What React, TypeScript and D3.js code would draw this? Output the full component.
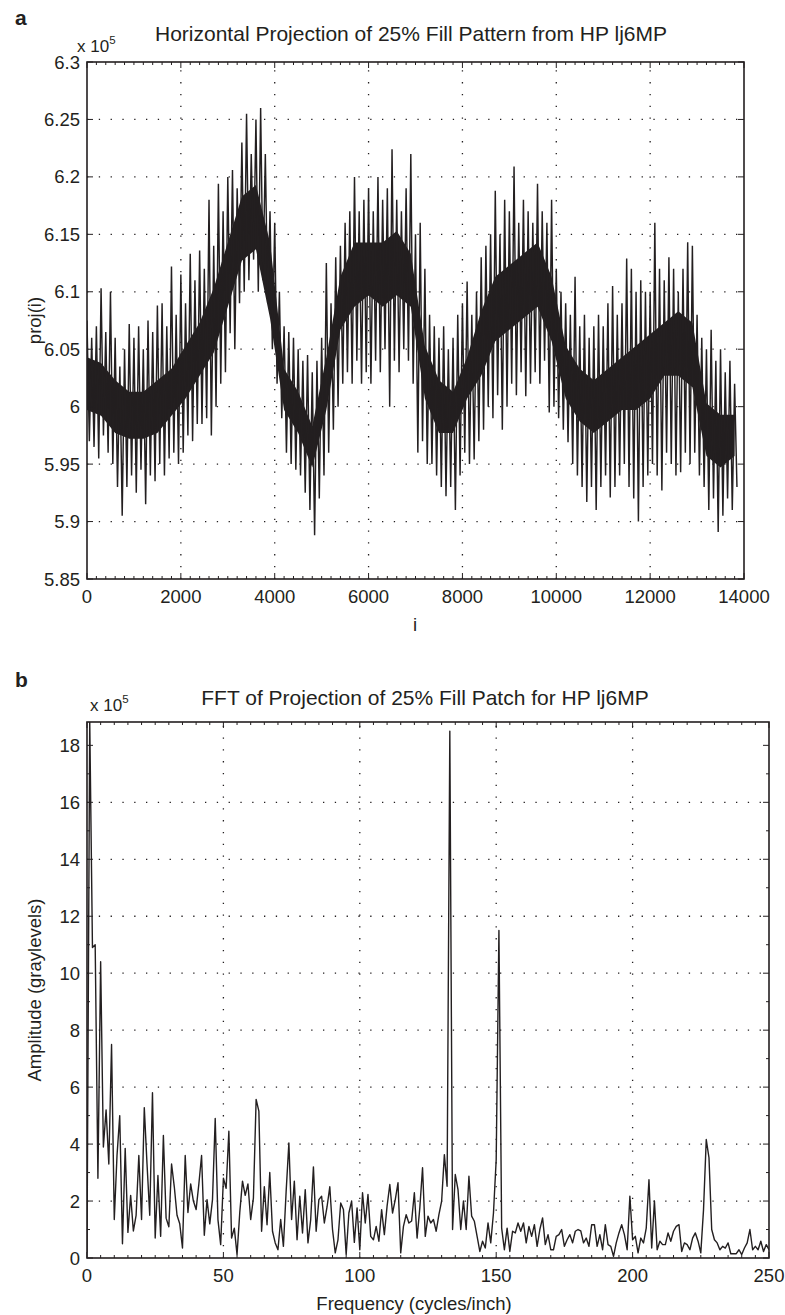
import React from 'react';
import * as d3 from 'd3';

const W = 785;
const H = 1315;
const INK = '#231f20';
const FONT = '"Liberation Sans", Arial, Helvetica, sans-serif';

// ---- panel a: horizontal projection (values x 1e5) ----
// spike tops / bottoms, one pair every 100 samples
const projStep = 100;
const projHi = [
  6.075, 6.06, 6.07, 6.103, 6.065, 6.10, 6.06, 6.035, 6.05, 6.072,
  6.06, 6.07, 6.05, 6.075, 6.065, 6.088, 6.09, 6.07, 6.122, 6.08,
  6.115, 6.09, 6.133, 6.11, 6.136, 6.12, 6.18, 6.14, 6.194, 6.17,
  6.2, 6.206, 6.19, 6.23, 6.255, 6.22, 6.25, 6.26, 6.22, 6.17,
  6.16, 6.10, 6.07, 6.065, 6.06, 6.05, 6.04, 6.045, 6.03, 6.04,
  6.06, 6.125, 6.09, 6.13, 6.14, 6.16, 6.17, 6.2, 6.17, 6.18,
  6.19, 6.17, 6.2, 6.18, 6.19, 6.224, 6.18, 6.17, 6.19, 6.22,
  6.15, 6.16, 6.12, 6.08, 6.07, 6.06, 6.07, 6.05, 6.06, 6.08,
  6.09, 6.109, 6.08, 6.1, 6.13, 6.14, 6.15, 6.188, 6.15, 6.18,
  6.17, 6.209, 6.16, 6.18, 6.17, 6.16, 6.194, 6.17, 6.16, 6.18,
  6.12, 6.1, 6.09, 6.08, 6.113, 6.07, 6.08, 6.06, 6.07, 6.08,
  6.07, 6.09, 6.105, 6.08, 6.09, 6.129, 6.12, 6.1, 6.11, 6.1,
  6.1, 6.16, 6.12, 6.11, 6.13, 6.12, 6.1, 6.12, 6.143, 6.14,
  6.08, 6.06, 6.05, 6.067, 6.04, 6.05, 6.03, 6.04, 6.02,
];
const projLo = [
  5.97, 5.965, 5.955, 5.975, 5.96, 5.95, 5.93, 5.905, 5.93, 5.94,
  5.925, 5.945, 5.915, 5.94, 5.935, 5.95, 5.94, 5.955, 5.96, 5.95,
  5.96, 5.975, 5.97, 5.985, 5.985, 5.99, 5.975, 6.0, 6.02, 6.03,
  6.064, 6.05, 6.09, 6.1, 6.11, 6.128, 6.1, 6.11, 6.09, 6.05,
  6.02, 5.99, 5.96, 5.95, 5.945, 5.94, 5.925, 5.91, 5.888, 5.92,
  5.94, 5.96, 5.98, 6.0, 6.02, 6.03, 6.02, 6.04, 6.02, 6.03,
  6.02, 6.04, 6.03, 6.05, 6.0, 6.04, 6.03, 6.05, 6.04, 6.02,
  5.96, 5.97, 5.95, 5.95, 5.94, 5.93, 5.922, 5.93, 5.91, 5.94,
  5.96, 5.95, 5.954, 5.97, 5.98, 6.0, 5.99, 6.01, 5.98, 6.0,
  6.02, 6.01, 6.03, 6.009, 6.02, 6.03, 6.02, 6.04, 5.995, 6.0,
  5.99, 5.98, 5.969, 5.95, 5.94, 5.93, 5.917, 5.93, 5.91, 5.93,
  5.94, 5.921, 5.93, 5.94, 5.95, 5.93, 5.92, 5.9, 5.93, 5.94,
  5.95, 5.94, 5.927, 5.96, 5.95, 5.94, 5.943, 5.96, 5.95, 5.96,
  5.94, 5.93, 5.91, 5.92, 5.891, 5.905, 5.92, 5.91, 5.93,
];
// dense black core of the trace, every 300 samples
const coreStep = 300;
const coreHi = [
  6.043, 6.038, 6.023, 6.013, 6.013, 6.023, 6.033, 6.053, 6.073, 6.103,
  6.143, 6.183, 6.193, 6.143, 6.033, 6.013, 5.983, 6.043, 6.113, 6.143,
  6.143, 6.143, 6.153, 6.133, 6.053, 6.023, 6.013, 6.043, 6.083, 6.113,
  6.123, 6.133, 6.143, 6.113, 6.053, 6.033, 6.023, 6.033, 6.043, 6.053,
  6.063, 6.073, 6.083, 6.073, 6.003, 5.993, 5.993,
];
const coreLo = [
  5.997, 5.992, 5.977, 5.972, 5.972, 5.977, 5.992, 6.007, 6.027, 6.047,
  6.087, 6.127, 6.137, 6.077, 5.997, 5.977, 5.947, 5.997, 6.067, 6.087,
  6.097, 6.087, 6.097, 6.087, 6.007, 5.977, 5.977, 6.007, 6.027, 6.057,
  6.067, 6.077, 6.087, 6.057, 6.007, 5.987, 5.977, 5.987, 5.997, 5.997,
  6.007, 6.027, 6.027, 6.017, 5.957, 5.947, 5.957,
];
const projXTicks = [0, 2000, 4000, 6000, 8000, 10000, 12000, 14000];
const projYTicks = [5.85, 5.9, 5.95, 6, 6.05, 6.1, 6.15, 6.2, 6.25, 6.3];
const projYLabels = ['5.85', '5.9', '5.95', '6', '6.05', '6.1', '6.15', '6.2', '6.25', '6.3'];

// ---- panel b: FFT amplitude (x 1e5), one value per cycle/inch ----
const fftStep = 1;
const fftAmp = [
  0.2, 18.9, 10.9, 11.0, 2.8, 10.4, 3.9, 5.2, 3.3, 7.5,
  1.35, 3.6, 5.0, 0.5, 3.85, 0.9, 2.2, 0.95, 1.5, 3.6,
  1.35, 5.28, 3.3, 1.5, 5.8, 0.7, 2.9, 0.76, 4.3, 1.4,
  1.1, 3.3, 2.5, 1.5, 1.2, 0.35, 3.6, 1.6, 2.6, 2.0,
  1.7, 2.6, 3.6, 0.8, 2.05, 1.2, 2.05, 4.9, 1.35, 0.47,
  2.8, 2.45, 4.45, 0.7, 1.05, 0.12, 1.6, 2.7, 2.2, 2.6,
  1.35, 2.1, 5.57, 5.16, 0.94, 2.5, 1.17, 3.0, 0.94, 0.53,
  0.29, 1.35, 0.41, 2.34, 4.04, 1.35, 2.7, 0.64, 2.17, 0.88,
  2.4, 0.53, 1.35, 3.2, 0.94, 2.05, 2.17, 1.23, 1.8, 2.5,
  1.0, 0.18, 0.64, 1.93, 1.7, 0.12, 1.58, 2.0, 0.55, 1.76,
  0.29, 2.29, 1.23, 2.23, 0.76, 0.64, 1.11, 0.59, 1.7, 0.82,
  1.82, 2.58, 1.58, 2.05, 2.64, 0.18, 1.11, 1.52, 1.23, 1.3,
  2.29, 0.7, 1.76, 3.17, 0.76, 1.47, 1.23, 1.35, 0.94, 1.52,
  2.0, 3.63, 2.52, 18.5, 1.0, 2.93, 2.4, 1.0, 2.0, 1.0,
  2.87, 1.47, 1.29, 0.76, 0.23, 0.59, 0.35, 1.23, 0.53, 1.58,
  3.46, 11.5, 1.05, 0.29, 1.05, 0.23, 0.94, 0.88, 1.23, 0.94,
  1.23, 0.53, 1.11, 0.76, 1.17, 0.41, 1.0, 1.41, 0.47, 0.82,
  0.29, 0.29, 0.76, 0.82, 1.0, 0.41, 0.64, 0.82, 0.53, 0.94,
  1.0, 0.95, 0.53, 0.7, 0.41, 1.17, 1.17, 0.41, 0.82, 0.29,
  1.17, 0.47, 0.41, 0.06, 0.53, 0.88, 1.17, 0.82, 0.29, 2.17,
  0.64, 0.76, 0.18, 0.7, 0.53, 1.05, 2.75, 0.35, 2.0, 0.29,
  0.59, 0.47, 0.47, 0.88, 0.59, 0.94, 1.11, 1.17, 0.23, 0.53,
  0.47, 0.29, 0.7, 0.88, 0.59, 0.18, 1.7, 4.16, 3.52, 1.0,
  0.64, 0.53, 0.29, 0.41, 0.35, 0.53, 0.15, 0.15, 0.15, 0.29,
  0.12, 0.35, 0.53, 1.0, 0.29, 0.41, 0.29, 0.59, 0.23, 0.47,
  0.29,
];
const fftXTicks = [0, 50, 100, 150, 200, 250];
const fftYTicks = [0, 2, 4, 6, 8, 10, 12, 14, 16, 18];

type Lin = d3.ScaleLinear<number, number>;

function Frame({ id, x, y, xTicks, yTicks, xLabels, yLabels, xMinor, yMinor, children }: {
  id: string; x: Lin; y: Lin; xTicks: number[]; yTicks: number[];
  xLabels: string[]; yLabels: string[]; xMinor: number[]; yMinor: number[];
  children?: React.ReactNode;
}) {
  const [l, r] = x.range();
  const [b, t] = y.range();
  const major = 6;
  const minor = 3;
  return (
    <g>
      <defs>
        <clipPath id={id}>
          <rect x={l} y={t} width={r - l} height={b - t} />
        </clipPath>
      </defs>
      {/* dotted grid */}
      <g stroke={INK} strokeWidth={1.3} strokeDasharray="1.3 10.5">
        {xTicks.slice(1, -1).map(v => (
          <line key={'gx' + v} x1={x(v)} x2={x(v)} y1={b} y2={t} />
        ))}
        {yTicks.slice(1, -1).map(v => (
          <line key={'gy' + v} x1={l} x2={r} y1={y(v)} y2={y(v)} />
        ))}
      </g>
      <g clipPath={`url(#${id})`}>{children}</g>
      {/* ticks */}
      <g stroke={INK} strokeWidth={1}>
        {xMinor.map(v => (
          <g key={'mx' + v}>
            <line x1={x(v)} x2={x(v)} y1={b} y2={b - minor} />
            <line x1={x(v)} x2={x(v)} y1={t} y2={t + minor} />
          </g>
        ))}
        {yMinor.map(v => (
          <g key={'my' + v}>
            <line x1={l} x2={l + minor} y1={y(v)} y2={y(v)} />
            <line x1={r} x2={r - minor} y1={y(v)} y2={y(v)} />
          </g>
        ))}
        {xTicks.map(v => (
          <g key={'tx' + v}>
            <line x1={x(v)} x2={x(v)} y1={b} y2={b - major} />
            <line x1={x(v)} x2={x(v)} y1={t} y2={t + major} />
          </g>
        ))}
        {yTicks.map(v => (
          <g key={'ty' + v}>
            <line x1={l} x2={l + major} y1={y(v)} y2={y(v)} />
            <line x1={r} x2={r - major} y1={y(v)} y2={y(v)} />
          </g>
        ))}
      </g>
      <rect x={l} y={t} width={r - l} height={b - t} fill="none" stroke={INK} strokeWidth={1.6} />
      <g fill={INK} fontSize={18.5} fontFamily={FONT}>
        {xTicks.map((v, i) => (
          <text key={'lx' + v} x={x(v)} y={b + 24} textAnchor="middle">{xLabels[i]}</text>
        ))}
        {yTicks.map((v, i) => (
          <text key={'ly' + v} x={l - 7} y={y(v) + 6.5} textAnchor="end">{yLabels[i]}</text>
        ))}
      </g>
    </g>
  );
}

function Exponent({ x, y }: { x: number; y: number }) {
  return (
    <text x={x} y={y} fill={INK} fontFamily={FONT} fontSize={17}>
      x 10<tspan fontSize={11.5} dy={-8}>5</tspan>
    </text>
  );
}

export default function App() {
  // panel a
  const xa = d3.scaleLinear().domain([0, 14000]).range([87, 744]);
  const ya = d3.scaleLinear().domain([5.85, 6.3]).range([579, 62]);

  const zig: [number, number][] = [];
  projHi.forEach((v, i) => {
    zig.push([xa(i * projStep), ya(v)]);
    zig.push([xa(i * projStep + projStep / 2), ya(projLo[i])]);
  });
  const zigPath = d3.line()(zig) || '';
  const corePath = d3.area<number>()
    .x((_, i) => xa(i * coreStep))
    .y0((_, i) => ya(coreLo[i]))
    .y1(v => ya(v))(coreHi) || '';

  // panel b
  const xb = d3.scaleLinear().domain([0, 250]).range([87, 769]);
  const yb = d3.scaleLinear().domain([0, 18.82]).range([1258, 722]);
  const fftPath = d3.line<number>()
    .x((_, i) => xb(i * fftStep))
    .y(v => yb(v))(fftAmp) || '';

  const projMinor = d3.range(0, 14001, 200).filter(v => !projXTicks.includes(v));
  const fftMinorX = d3.range(0, 251, 5).filter(v => !fftXTicks.includes(v));
  const fftMinorY = d3.range(0, 18.9, 1).filter(v => !fftYTicks.includes(v));

  return (
    <svg width={W} height={H} viewBox={`0 0 ${W} ${H}`}
      style={{ position: 'absolute', left: 0, top: 0, background: '#fff' }}>
      <rect width={W} height={H} fill="#fff" />

      {/* ---------- a ---------- */}
      <text x={15} y={25} fontFamily={FONT} fontWeight="bold" fontSize={21} fill={INK}>a</text>
      <text x={411} y={41} textAnchor="middle" fontFamily={FONT} fontSize={21} fill={INK}>
        Horizontal Projection of 25% Fill Pattern from HP lj6MP
      </text>
      <Exponent x={77} y={52} />
      <Frame id="clipA" x={xa} y={ya} xTicks={projXTicks} yTicks={projYTicks}
        xLabels={projXTicks.map(String)} yLabels={projYLabels}
        xMinor={projMinor} yMinor={[]}>
        <path d={corePath} fill={INK} />
        <path d={zigPath} fill="none" stroke={INK} strokeWidth={1.45} />
      </Frame>
      <text x={415} y={631} textAnchor="middle" fontFamily={FONT} fontSize={18.5} fill={INK}>i</text>
      <text transform={`translate(41,${(62 + 579) / 2}) rotate(-90)`} textAnchor="middle"
        fontFamily={FONT} fontSize={18.5} fill={INK}>proj(i)</text>

      {/* ---------- b ---------- */}
      <text x={15} y={687} fontFamily={FONT} fontWeight="bold" fontSize={21} fill={INK}>b</text>
      <text x={425} y={705} textAnchor="middle" fontFamily={FONT} fontSize={21} fill={INK}>
        FFT of Projection of 25% Fill Patch for HP lj6MP
      </text>
      <Exponent x={90} y={711} />
      <Frame id="clipB" x={xb} y={yb} xTicks={fftXTicks} yTicks={fftYTicks}
        xLabels={fftXTicks.map(String)} yLabels={fftYTicks.map(String)}
        xMinor={fftMinorX} yMinor={fftMinorY}>
        <path d={fftPath} fill="none" stroke={INK} strokeWidth={1.4} strokeLinejoin="round" />
      </Frame>
      <text x={414} y={1310} textAnchor="middle" fontFamily={FONT} fontSize={18.5} fill={INK}>
        Frequency (cycles/inch)
      </text>
      <text transform={`translate(41,${(722 + 1258) / 2}) rotate(-90)`} textAnchor="middle"
        fontFamily={FONT} fontSize={18.5} fill={INK}>Amplitude (graylevels)</text>
    </svg>
  );
}
